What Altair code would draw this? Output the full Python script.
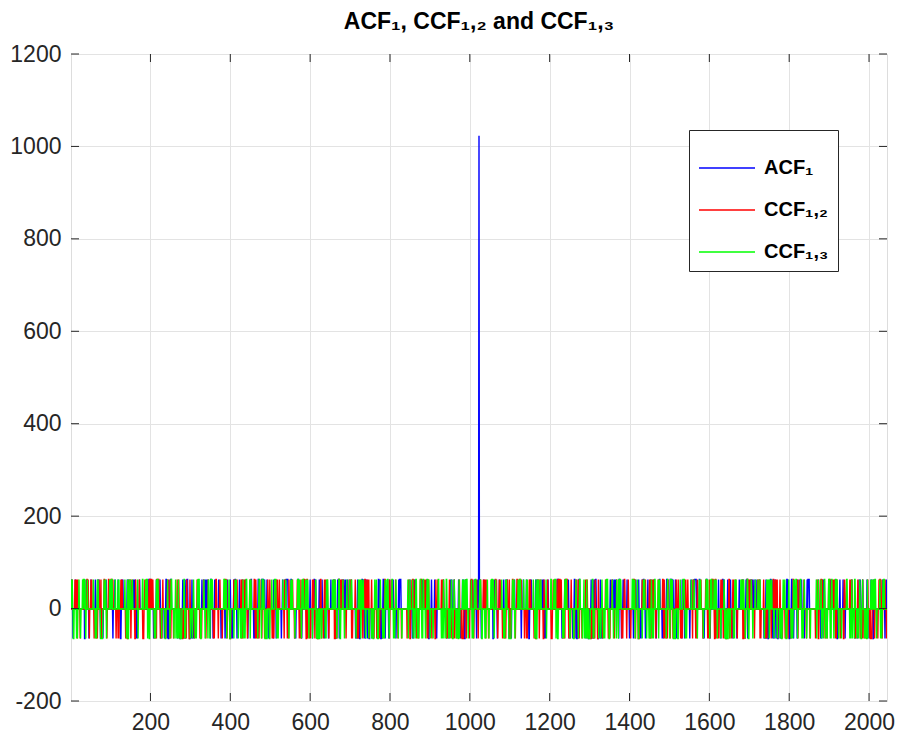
import numpy as np
import pandas as pd
import altair as alt

# ---- data definition -------------------------------------------------------
SERIES = ["ACF\u2081", "CCF\u2081,\u2082", "CCF\u2081,\u2083"]
COLORS = ["#0000ff", "#ff0000", "#00ff00"]

# Gold-code generator (preferred pair of degree-10 m-sequences)
CODE_LENGTH = 1023
G1_TAPS = [3, 10]
G2_TAPS = [2, 3, 6, 8, 9, 10]
G2_SHIFTS = [0, 1, 2]          # code k = G1 xor (G2 delayed by shift k)

X_DOMAIN = [1, 2045]
Y_DOMAIN = [-200, 1200]
X_TICKS = [200, 400, 600, 800, 1000, 1200, 1400, 1600, 1800, 2000]
Y_TICKS = [-200, 0, 200, 400, 600, 800, 1000, 1200]


def m_sequence(taps):
    reg = [1] * 10
    out = []
    for _ in range(CODE_LENGTH):
        out.append(reg[9])
        fb = 0
        for t in taps:
            fb ^= reg[t - 1]
        reg = [fb] + reg[:9]
    return np.array(out)


g1 = m_sequence(G1_TAPS)
g2 = m_sequence(G2_TAPS)
codes = [1 - 2 * (g1 ^ np.roll(g2, s)) for s in G2_SHIFTS]
lags = np.arange(-(CODE_LENGTH - 1), CODE_LENGTH)


def periodic_corr(a, b):
    return np.array([int(np.dot(a, np.roll(b, k))) for k in lags])


acf_1 = periodic_corr(codes[0], codes[0])
ccf_12 = periodic_corr(codes[0], codes[1])
ccf_13 = periodic_corr(codes[0], codes[2])

idx = np.arange(1, len(lags) + 1)
df = pd.concat(
    [
        pd.DataFrame({"x": idx, "y": vals, "series": name})
        for name, vals in zip(SERIES, [acf_1, ccf_12, ccf_13])
    ],
    ignore_index=True,
)

W, H = 816, 647
PAD = {"left": 63, "top": 46, "right": 9, "bottom": 35}
AX = "#262626"
FONT = "Liberation Sans"

x_axis = alt.Axis(values=X_TICKS, title=None, labelPadding=10,
                  labelExpr="'' + datum.value",
                  labelFont=FONT, labelFontSize=23, labelColor=AX,
                  domain=False, ticks=False, grid=True, gridColor="#e3e3e3")
y_axis = alt.Axis(values=Y_TICKS, title=None, labelPadding=10,
                  labelExpr="'' + datum.value",
                  labelFont=FONT, labelFontSize=23, labelColor=AX,
                  domain=False, ticks=False, grid=True, gridColor="#e3e3e3")
x_scale = alt.Scale(domain=X_DOMAIN, nice=False, zero=False)
y_scale = alt.Scale(domain=Y_DOMAIN, nice=False, zero=False)

color_enc = alt.Color(
    "series:N",
    scale=alt.Scale(domain=SERIES, range=COLORS),
    legend=alt.Legend(
        title=None,
        orient="none",
        legendX=618,
        legendY=76,
        fillColor="white",
        strokeColor=AX,
        padding=9,
        symbolType="stroke",
        symbolSize=3136,
        symbolStrokeWidth=1.3,
        labelFont=FONT,
        labelFontWeight="bold",
        labelFontSize=20,
        labelColor="black",
        labelOffset=8,
        rowPadding=3,
    ),
)

base = alt.Chart(df).mark_line(strokeWidth=1.4, clip=True).encode(
    x=alt.X("x:Q", scale=x_scale, axis=x_axis),
    y=alt.Y("y:Q", scale=y_scale, axis=y_axis),
    color=color_enc,
)
layers = [base.transform_filter(alt.datum.series == s) for s in SERIES]

xt = pd.DataFrame({"x": X_TICKS})
yt = pd.DataFrame({"y": Y_TICKS})
tx = alt.X("x:Q", scale=x_scale, axis=x_axis)
ty = alt.Y("y:Q", scale=y_scale, axis=y_axis)
bottom_ticks = alt.Chart(xt).mark_rule(color=AX, strokeWidth=1).encode(
    x=tx, y=alt.value(H), y2=alt.value(H - 8))
top_ticks = alt.Chart(xt).mark_rule(color=AX, strokeWidth=1).encode(
    x=tx, y=alt.value(0), y2=alt.value(8))
left_ticks = alt.Chart(yt).mark_rule(color=AX, strokeWidth=1).encode(
    y=ty, x=alt.value(0), x2=alt.value(8))
right_ticks = alt.Chart(yt).mark_rule(color=AX, strokeWidth=1).encode(
    y=ty, x=alt.value(W), x2=alt.value(W - 8))

chart = (
    alt.layer(*layers, bottom_ticks, top_ticks, left_ticks, right_ticks)
    .properties(
        width=W,
        height=H,
        autosize=alt.AutoSizeParams(type="none"),
        padding=PAD,
        title=alt.TitleParams(
            "ACF\u2081, CCF\u2081,\u2082 and CCF\u2081,\u2083",
            font=FONT,
            fontSize=23,
            fontWeight="bold",
            color="black",
            anchor="middle",
            frame="group",
            offset=9,
        ),
    )
    .configure_view(stroke=AX, strokeWidth=1)
    .configure(background="white")
)

chart.save("out.html", embed_options={"renderer": "svg", "actions": False})
